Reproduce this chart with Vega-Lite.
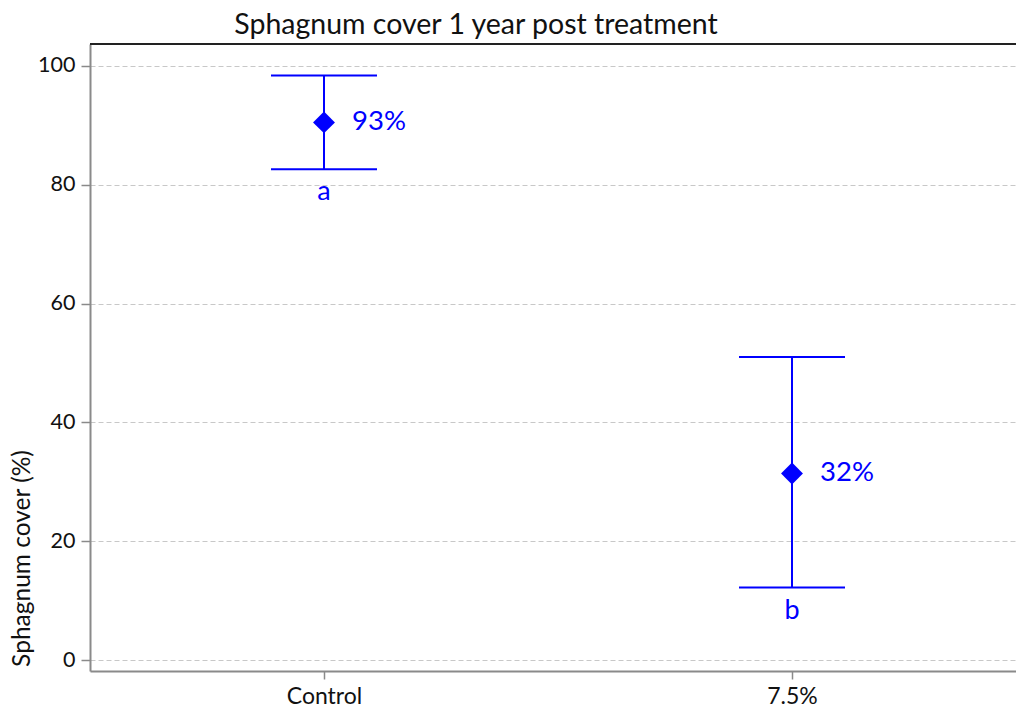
{
  "$schema": "https://vega.github.io/schema/vega-lite/v6.json",
  "autosize": {"type": "none"},
  "padding": {"left": 90, "top": 44, "right": 0, "bottom": 42},
  "width": 926,
  "height": 627,
  "background": "white",
  "config": {
    "font": "Lato",
    "view": {"stroke": null},
    "axis": {"domainColor": "#8a8a8a", "domainWidth": 2, "tickColor": "#8a8a8a", "tickWidth": 1.5, "labelColor": "#111", "titleColor": "#111", "labelFont": "Lato", "titleFont": "Lato"}
  },
  "title": {"text": "Sphagnum cover 1 year post treatment", "fontSize": 28.5, "fontWeight": "normal", "font": "Lato", "color": "#111", "anchor": "middle", "dx": -77, "offset": 4},
  "data": {"values": [
    {"group": "Control", "mean": 90.5, "lower": 82.6, "upper": 98.4, "label": "93%", "letter": "a"},
    {"group": "7.5%", "mean": 31.4, "lower": 12.2, "upper": 51.0, "label": "32%", "letter": "b"}
  ]},
  "layer": [
    {
      "mark": {"type": "rule", "color": "#0000ff", "strokeWidth": 2},
      "encoding": {
        "x": {"field": "group", "type": "nominal", "sort": ["Control", "7.5%"],
          "scale": {"type": "point", "domain": ["Control", "7.5%"], "range": [0, 936], "padding": 0.5},
          "axis": {"title": null, "labelAngle": 0, "labelFontSize": 23, "tickSize": 8, "labelPadding": 6, "grid": false}},
        "y": {"field": "lower", "type": "quantitative",
          "scale": {"domain": [-1.85, 103.7], "nice": false, "zero": false},
          "axis": {"title": "Sphagnum cover (%)", "values": [0, 20, 40, 60, 80, 100], "labelFontSize": 21.5, "titleFontSize": 24.5, "titleFontWeight": "normal", "tickSize": 9, "labelPadding": 6, "grid": true, "gridDash": [5, 3], "gridColor": "#c8c8c8", "gridWidth": 1, "titleAngle": -90, "titleX": -68, "titleY": 514, "titleAlign": "center", "titleBaseline": "middle"}},
        "y2": {"field": "upper"}
      }
    },
    {
      "mark": {"type": "tick", "color": "#0000ff", "thickness": 2, "size": 106, "orient": "horizontal", "opacity": 1},
      "encoding": {"x": {"field": "group", "type": "nominal"}, "y": {"field": "lower", "type": "quantitative"}}
    },
    {
      "mark": {"type": "tick", "color": "#0000ff", "thickness": 2, "size": 106, "orient": "horizontal", "opacity": 1},
      "encoding": {"x": {"field": "group", "type": "nominal"}, "y": {"field": "upper", "type": "quantitative"}}
    },
    {
      "mark": {"type": "point", "shape": "diamond", "filled": true, "color": "#0000ff", "size": 480, "opacity": 1},
      "encoding": {"x": {"field": "group", "type": "nominal"}, "y": {"field": "mean", "type": "quantitative"}}
    },
    {
      "mark": {"type": "text", "color": "#0000ff", "fontSize": 27.5, "align": "left", "baseline": "middle", "dx": 28, "font": "Lato"},
      "encoding": {"x": {"field": "group", "type": "nominal"}, "y": {"field": "mean", "type": "quantitative"}, "text": {"field": "label"}}
    },
    {
      "mark": {"type": "text", "color": "#0000ff", "fontSize": 27, "align": "center", "baseline": "alphabetic", "dy": 31, "font": "Lato"},
      "encoding": {"x": {"field": "group", "type": "nominal"}, "y": {"field": "lower", "type": "quantitative"}, "text": {"field": "letter"}}
    },
    {
      "mark": {"type": "rule", "color": "#222", "strokeWidth": 2},
      "encoding": {"y": {"datum": 103.7, "type": "quantitative"}}
    }
  ]
}
